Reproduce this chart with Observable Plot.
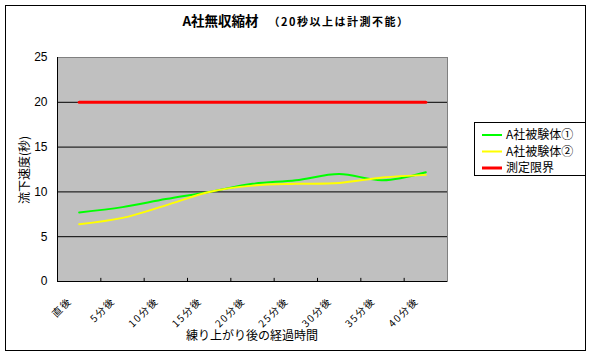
<!DOCTYPE html>
<html><head><meta charset="utf-8">
<script src="https://cdn.jsdelivr.net/npm/d3@7"></script>
<script src="https://cdn.jsdelivr.net/npm/@observablehq/plot@0.6"></script>
<style>body{margin:0;background:#fff}#c{position:relative;width:592px;height:356px}</style>
</head><body><div id="c"></div>
<script>
const categories = ["直後","5分後","10分後","15分後","20分後","25分後","30分後","35分後","40分後"];
const specimen1 = [7.7, 8.3, 9.2, 10.0, 10.9, 11.3, 12.0, 11.3, 12.2];
const specimen2 = [6.4, 7.1, 8.5, 10.0, 10.7, 10.9, 11.0, 11.6, 11.9];
const limitValues = [20, 20, 20, 20, 20, 20, 20, 20, 20];
const seriesNames = ["A社被験体①", "A社被験体②", "測定限界"];
const seriesColors = ["#00FF00", "#FFFF00", "#FF0000"];
const seriesWidths = [2, 2, 3];
const yTicks = [0, 5, 10, 15, 20, 25];
const gridValues = [5, 10, 15, 20];
const titleText = "A社無収縮材";
const subtitleText = "（20秒以上は計測不能）";
const xLabel = "練り上がり後の経過時間";
const yLabel = "流下速度(秒)";

const CJK = "'Noto Sans CJK JP', sans-serif";
const idx = categories.map((d, i) => i);
const boundaries = idx.slice(1).map(i => i - 0.5);
const series = [specimen1, specimen2, limitValues];

const plot = Plot.plot({
  width: 592, height: 356,
  marginLeft: 57, marginRight: 145, marginTop: 57, marginBottom: 75,
  style: {fontFamily: "'Liberation Sans', Arial, sans-serif", fontSize: "12px", background: "transparent", color: "#000"},
  x: {type: "linear", domain: [-0.5, categories.length - 0.5], axis: null},
  y: {domain: [0, 25], axis: null},
  marks: [
    Plot.frame({fill: "#C0C0C0", stroke: "#808080"}),
    Plot.ruleY(gridValues, {stroke: "#000"}),
    Plot.ruleX([-0.5], {stroke: "#000"}),
    Plot.ruleY([0], {stroke: "#000"}),
    Plot.ruleX(boundaries, {y1: 0, y2: 0.35, stroke: "#000"}),
    ...series.map((s, k) => Plot.line(idx, {
      x: i => i, y: i => s[i], curve: k === 2 ? "linear" : "catmull-rom",
      stroke: seriesColors[k], strokeWidth: seriesWidths[k]
    })),
    Plot.axisY(yTicks, {tickSize: 0, tickPadding: 10, label: null, fontSize: 12}),
    Plot.text(idx, {
      x: i => i, y: 0, text: i => categories[i], rotate: -45, textAnchor: "end",
      dx: -9, dy: 18, fontSize: 10, fontFamily: CJK
    })
  ]
});
document.getElementById("c").appendChild(plot);
d3.select(plot).selectAll("g[aria-label=text] text").attr("letter-spacing", "1.5px");

const svg = d3.select(plot);
// outer frame
svg.append("rect").attr("x", 5.5).attr("y", 5.5).attr("width", 580).attr("height", 345)
  .attr("fill", "none").attr("stroke", "#000");
// title
const t = svg.append("text").attr("x", 296).attr("y", 26).attr("text-anchor", "middle")
  .attr("font-family", CJK).attr("font-weight", "bold");
t.append("tspan").attr("font-size", 13.5).text(titleText);
t.append("tspan").attr("font-size", 11).attr("letter-spacing", "1.5px").attr("dx", 10).text(subtitleText);
// axis labels
svg.append("text").attr("x", 252).attr("y", 340).attr("text-anchor", "middle")
  .attr("font-family", CJK).attr("font-size", 12).text(xLabel);
svg.append("text").attr("transform", "translate(29,170) rotate(-90)").attr("text-anchor", "middle")
  .attr("font-family", CJK).attr("font-size", 12).text(yLabel);
// legend
const lg = svg.append("g");
lg.append("rect").attr("x", 474.5).attr("y", 122.5).attr("width", 111).attr("height", 53)
  .attr("fill", "#fff").attr("stroke", "#000");
seriesNames.forEach((n, k) => {
  const y = 135 + k * 16.5;
  lg.append("line").attr("x1", 482).attr("x2", 502).attr("y1", y).attr("y2", y)
    .attr("stroke", seriesColors[k]).attr("stroke-width", seriesWidths[k]);
  lg.append("text").attr("x", 506).attr("y", y).attr("dy", "0.35em").attr("text-anchor", "start")
    .attr("font-family", CJK).attr("font-size", 12).text(n);
});
</script></body></html>
